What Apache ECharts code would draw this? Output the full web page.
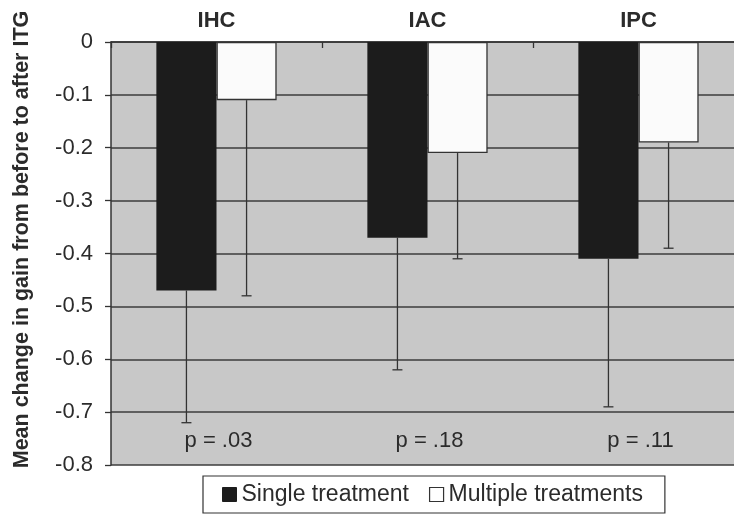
<!DOCTYPE html>
<html>
<head>
<meta charset="utf-8">
<script src="https://cdn.jsdelivr.net/npm/echarts@6/dist/echarts.min.js"></script>
<style>html,body{margin:0;padding:0;background:#fff}#c{width:734px;height:516px}</style>
</head>
<body>
<div id="c"></div>
<script>
const categories = ['IHC', 'IAC', 'IPC'];
const singleValues = [-0.47, -0.37, -0.41];
const multipleValues = [-0.11, -0.21, -0.19];
const singleErrLow = [-0.72, -0.62, -0.69];
const multipleErrLow = [-0.48, -0.41, -0.39];
const pLabels = ['p = .03', 'p = .18', 'p = .11'];
const yTicks = [0, -0.1, -0.2, -0.3, -0.4, -0.5, -0.6, -0.7, -0.8];

const FONT = '"Liberation Sans", Arial, sans-serif';
const TXT = '#2b2b2b';

function errRender(offsetFrac) {
  return function (params, api) {
    const i = api.value(0);
    const lo = api.value(1);
    const base = api.value(2);
    const band = api.size([1, 0])[0];
    const p0 = api.coord([i, base]);
    const p1 = api.coord([i, lo]);
    const x = p0[0] + offsetFrac * band;
    const style = { stroke: '#333', lineWidth: 1.3 };
    return {
      type: 'group',
      children: [
        { type: 'line', shape: { x1: x, y1: p0[1], x2: x, y2: p1[1] }, style: style },
        { type: 'line', shape: { x1: x - 5, y1: p1[1], x2: x + 5, y2: p1[1] }, style: style }
      ]
    };
  };
}

const chart = echarts.init(document.getElementById('c'), null, { renderer: 'canvas' });
chart.setOption({
  animation: false,
  backgroundColor: '#fff',
  textStyle: { fontFamily: FONT },
  grid: {
    left: 111, width: 633, top: 42, bottom: 51,
    outerBoundsMode: 'none', containLabel: false,
    show: true, backgroundColor: '#c8c8c8', borderWidth: 0
  },
  legend: {
    left: 203, top: 476,
    data: [
      { name: 'Single treatment', itemStyle: { color: '#1c1c1c', borderColor: '#1c1c1c', borderWidth: 1 } },
      { name: 'Multiple treatments', itemStyle: { color: '#fff', borderColor: '#333', borderWidth: 1.2 } }
    ],
    icon: 'rect', itemWidth: 14, itemHeight: 14, itemGap: 20,
    padding: [7, 22, 7, 19],
    borderColor: '#333', borderWidth: 1.2, backgroundColor: '#fff',
    textStyle: { fontFamily: FONT, fontSize: 23, color: TXT }
  },
  xAxis: {
    type: 'category', position: 'top', data: categories,
    axisLine: { show: true, lineStyle: { color: '#333', width: 1.5 } },
    axisTick: { show: true, inside: true, length: 6, lineStyle: { color: '#333', width: 1.3 } },
    axisLabel: { margin: 10, fontFamily: FONT, fontSize: 22, fontWeight: 'bold', color: TXT },
    splitLine: { show: false }
  },
  yAxis: {
    type: 'value', min: -0.8, max: 0, interval: 0.1,
    name: 'Mean change in gain from before to after ITG',
    nameLocation: 'middle', nameRotate: 90, nameGap: 78,
    nameTextStyle: { fontFamily: FONT, fontSize: 21.5, fontWeight: 'bold', color: TXT, padding: [0, 0, 0, 28] },
    axisLine: { show: true, lineStyle: { color: '#333', width: 1.5 } },
    axisTick: { show: true, length: 6, lineStyle: { color: '#333', width: 1.3 } },
    axisLabel: {
      margin: 18, fontFamily: FONT, fontSize: 22, color: TXT,
      formatter: function (v) {
        const r = Math.round(v * 10) / 10;
        const t = yTicks.find(function (k) { return Math.abs(k - r) < 1e-9; });
        return t === 0 ? '0' : String(t);
      }
    },
    splitLine: { show: true, lineStyle: { color: '#3c3c3c', width: 1.5 } }
  },
  series: [
    {
      name: 'Single treatment', type: 'bar', data: singleValues,
      barWidth: '28.5%', barGap: '0%',
      itemStyle: { color: '#1c1c1c', borderColor: '#1c1c1c', borderWidth: 0 }, z: 3
    },
    {
      name: 'Multiple treatments', type: 'bar', data: multipleValues,
      barWidth: '28.5%', barGap: '0%',
      itemStyle: { color: '#fbfbfb', borderColor: '#333', borderWidth: 1.3 }, z: 3
    },
    {
      type: 'custom', z: 5, silent: true,
      renderItem: errRender(-0.1425),
      encode: { x: 0, y: [1, 2] },
      data: singleErrLow.map(function (lo, i) { return [i, lo, singleValues[i]]; })
    },
    {
      type: 'custom', z: 5, silent: true,
      renderItem: errRender(0.1425),
      encode: { x: 0, y: [1, 2] },
      data: multipleErrLow.map(function (lo, i) { return [i, lo, multipleValues[i]]; })
    },
    {
      type: 'custom', z: 6, silent: true,
      renderItem: function (params, api) {
        const i = api.value(0);
        const p = api.coord([i, -0.755]);
        return {
          type: 'text',
          style: {
            x: p[0] + 2, y: p[1], text: pLabels[params.dataIndex],
            align: 'center', verticalAlign: 'middle',
            font: '22px ' + FONT, fill: TXT
          }
        };
      },
      encode: { x: 0, y: 1 },
      data: pLabels.map(function (p, i) { return [i, -0.75]; })
    }
  ]
});
</script>
</body>
</html>
